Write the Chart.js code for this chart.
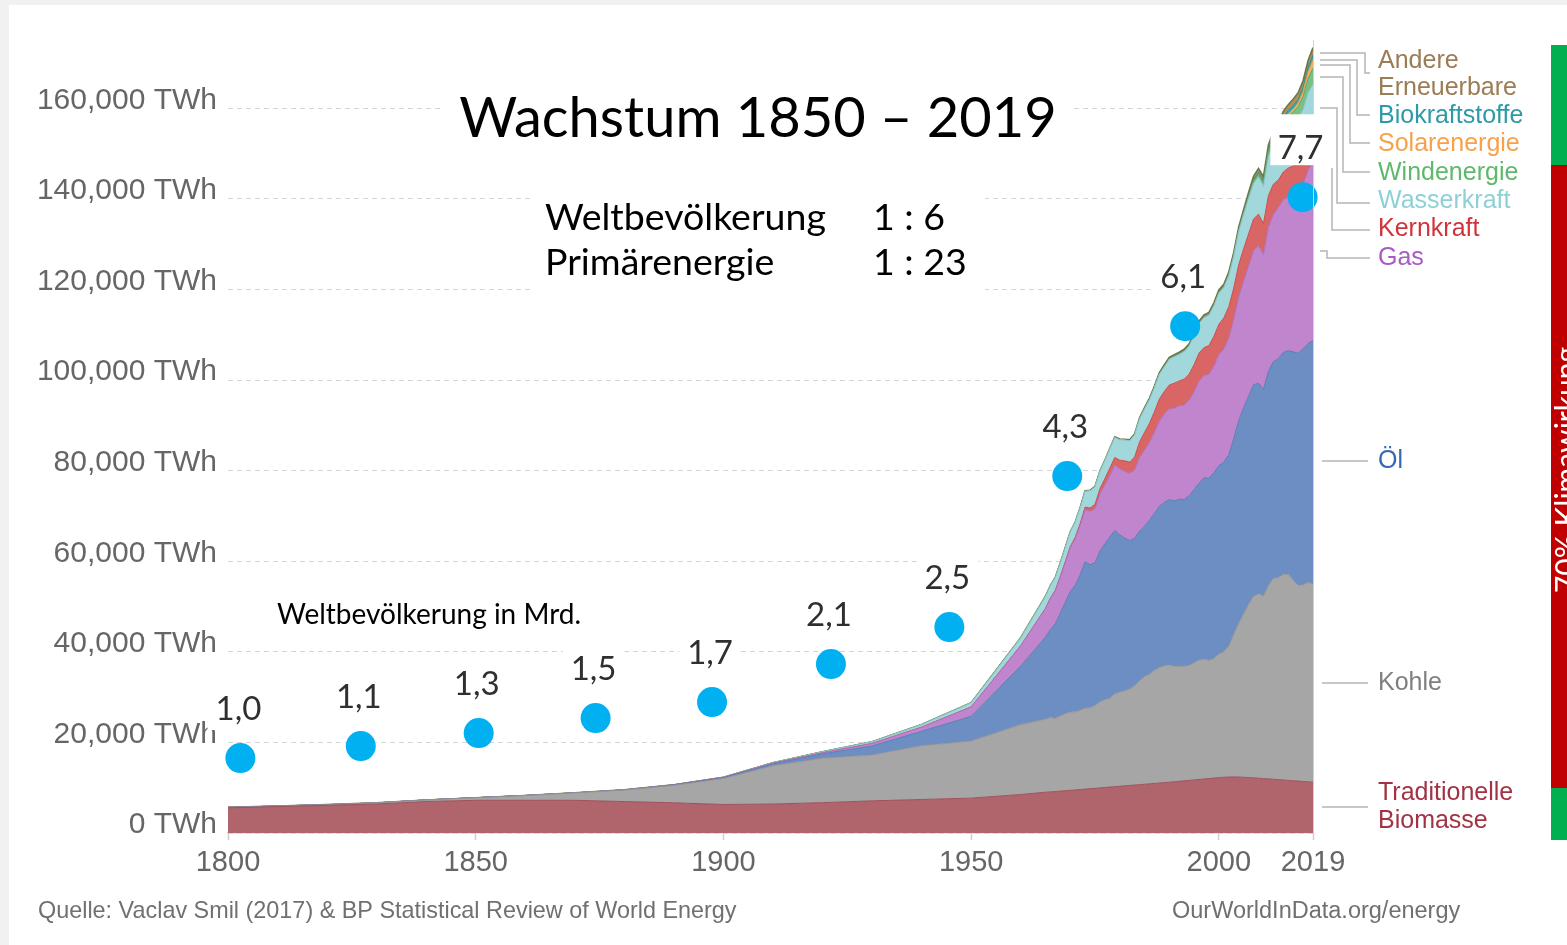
<!DOCTYPE html>
<html><head><meta charset="utf-8">
<script src="https://cdn.jsdelivr.net/npm/chart.js@4.4.1/dist/chart.umd.min.js"></script>
<style>
html,body{margin:0;padding:0;}
body{width:1567px;height:945px;background:#f1f1f1;position:relative;overflow:hidden;}
#panel{position:absolute;left:9px;top:5px;right:0;bottom:0;background:#fff;}
#c{position:absolute;left:0;top:0;}
.seg{position:absolute;left:1551px;width:16px;}
</style></head>
<body>
<div id="panel"></div>
<div class="seg" style="top:45px;height:120px;background:#00b050"></div>
<div class="seg" style="top:165px;height:623px;background:#c00000"></div>
<div class="seg" style="top:788px;height:52px;background:#00b050"></div>
<canvas id="c" width="1567" height="945"></canvas>
<script>
// ---------- DATA ----------
const years = [1800,1810,1820,1830,1840,1850,1860,1870,1880,1890,1900,1910,1920,1930,1940,1950,1960,
1965,1966,1967,1968,1969,1970,1971,1972,1973,1974,1975,1976,1977,1978,1979,1980,1981,1982,1983,1984,
1985,1986,1987,1988,1989,1990,1991,1992,1993,1994,1995,1996,1997,1998,1999,2000,2001,2002,2003,2004,
2005,2006,2007,2008,2009,2010,2011,2012,2013,2014,2015,2016,2017,2018,2019];

const tradBiomass = [5556,5833,6111,6389,6944,7222,7222,7222,6944,6667,6300,6400,6700,7100,7400,7700,8500,
9000,9080,9170,9250,9340,9420,9510,9600,9690,9780,9870,9960,10050,10140,10230,10320,10410,10500,10590,10680,
10770,10860,10950,11040,11130,11220,11320,11420,11520,11620,11720,11820,11920,12020,12120,12220,12300,12350,12380,12350,
12300,12250,12180,12100,12020,11940,11860,11780,11700,11620,11540,11460,11380,11300,11220];
const coal = [97,128,153,264,356,569,1061,1642,2542,3856,5728,8444,9833,10125,11889,12603,15442,
16140,16400,16150,16600,17000,17300,17250,17500,17900,17850,18300,19000,19400,19600,20500,20800,21000,21300,21900,22900,
23800,24200,25000,25500,25800,25900,25500,25400,25300,25400,25900,26400,26500,26100,26400,27300,27700,28900,31500,33900,
36100,38200,40100,40700,40300,42700,44400,44600,45400,45500,44300,43200,43400,44000,43850];
const oil = [0,0,0,0,0,0,0,6,33,89,181,403,931,1994,3161,5444,12900,
18100,19500,20900,22700,24600,26600,27900,29900,32300,31600,31500,33300,34400,35600,36100,34700,33700,32800,32600,33100,
33200,34000,34600,35600,36100,36500,36500,36900,36800,37500,38200,39000,40000,40200,41000,41600,41900,42300,43200,44800,
45500,46000,46700,46500,45700,47300,47800,48400,49000,49400,50400,51300,52100,52800,53620];
const gas = [0,0,0,0,0,0,0,0,6,33,64,161,236,550,925,2092,4500,
6300,6800,7300,8000,8800,9700,10300,10900,11500,11800,11900,12600,13000,13600,14400,14600,14800,14800,15100,16300,
16800,17200,18000,18800,19500,20000,20500,20600,20900,21000,21600,22600,22600,23000,23600,24500,25000,25700,26400,27300,
28000,28700,29600,30400,29700,31800,32500,33300,33700,34000,34700,35500,36300,38300,39300];
const nuclear = [0,0,0,0,0,0,0,0,0,0,0,0,0,0,0,0,30,
70,100,120,160,190,230,330,440,570,720,1000,1160,1400,1640,1700,1900,2260,2500,2850,3400,
3900,4200,4500,4900,5000,5300,5500,5500,5700,5800,6000,6150,6150,6300,6550,6700,6850,6950,6850,7100,
7100,7150,7000,6950,6850,7000,6700,6100,6150,6300,6350,6450,6450,6600,6920];
const hydro = [0,0,0,0,0,0,0,0,0,0,50,120,230,380,560,900,1700,
2600,2750,2800,2900,3050,3200,3300,3450,3500,3800,3850,3850,4000,4250,4400,4500,4600,4700,4900,5050,
5150,5250,5300,5450,5450,5700,5850,5850,6100,6200,6450,6500,6650,6700,6750,6900,6700,6850,6950,7300,
7550,7800,7850,8200,8200,8600,8750,9200,9500,9650,9750,10000,10100,10350,10450];
const wind = [0,0,0,0,0,0,0,0,0,0,0,0,0,0,0,0,0,
0,0,0,0,0,0,0,0,0,0,0,0,0,0,0,0,0,0,0,0,
1,1,2,3,5,10,11,13,16,20,22,27,34,45,60,80,100,140,170,220,
270,340,440,570,720,900,1100,1350,1600,1800,2150,2450,2850,3200,3540];
const solar = [0,0,0,0,0,0,0,0,0,0,0,0,0,0,0,0,0,
0,0,0,0,0,0,0,0,0,0,0,0,0,0,0,0,0,0,0,0,
0,0,0,0,0,0,0,0,0,0,1,1,1,2,2,3,4,5,6,8,
10,15,20,35,55,90,170,270,370,500,650,850,1150,1480,1790];
const biofuels = [0,0,0,0,0,0,0,0,0,0,0,0,0,0,0,0,0,
0,0,0,0,0,0,0,0,0,0,0,0,0,0,0,20,25,35,45,55,
60,70,70,70,75,80,85,80,85,85,90,95,100,100,100,110,115,130,160,180,
210,260,340,440,500,590,600,620,680,750,780,800,850,950,1110];
const otherRenew = [0,0,0,0,0,0,0,0,0,0,0,0,0,0,0,0,40,
60,62,65,70,75,80,85,90,95,100,110,115,120,130,140,150,165,180,200,220,
250,270,290,310,330,340,360,380,390,400,420,440,460,480,490,500,510,530,560,600,
650,700,750,820,880,1000,1080,1150,1220,1290,1400,1460,1520,1570,1614];

// population markers (placed along the time axis by the slide author)
const popYears = [1802.5,1826.8,1850.6,1874.2,1897.7,1921.7,1945.6,1969.4,1993.2,2016.9];
const popHeights = [16556,19205,22075,25386,28918,37307,45475,78808,111920,140397];
const popBillions = [1.0,1.1,1.3,1.5,1.7,2.1,2.5,4.3,6.1,7.7];

const xTicks = [1800,1850,1900,1950,2000,2019];
const yTicks = [0,20000,40000,60000,80000,100000,120000,140000,160000];

// ---------- STYLE ----------
const layers = [
  {label:'Traditionelle Biomasse', data:tradBiomass, fill:'#b0646c', line:'#9d525b'},
  {label:'Kohle', data:coal, fill:'#a6a6a6', line:'#939393'},
  {label:'Öl', data:oil, fill:'#6d8ec3', line:'#5b7cb3'},
  {label:'Gas', data:gas, fill:'#c085cd', line:'#ad6fbd'},
  {label:'Kernkraft', data:nuclear, fill:'#da6565', line:'#c85050'},
  {label:'Wasserkraft', data:hydro, fill:'#a2d8db', line:'#88c6ca'},
  {label:'Windenergie', data:wind, fill:'#78c084', line:'#5aa866'},
  {label:'Solarenergie', data:solar, fill:'#f6b25e', line:'#e09a45'},
  {label:'Biokraftstoffe', data:biofuels, fill:'#3aa5ad', line:'#2b8d95'},
  {label:'Andere Erneuerbare', data:otherRenew, fill:'#b0925f', line:'#6d7545'}
];

const datasets = layers.map((L,i)=>({
  label:L.label,
  data: years.map((y,k)=>({x:y, y:L.data[k]})),
  backgroundColor:L.fill, borderColor:L.line, borderWidth: i===layers.length-1?1.6:1,
  fill: i===0?'origin':'-1', pointRadius:0, tension:0, yAxisID:'y', order:5
}));
datasets.push({
  label:'Weltbevölkerung',
  data: popYears.map((y,k)=>({x:y, y:popHeights[k]})),
  showLine:false, pointRadius:15, pointHoverRadius:15, pointBackgroundColor:'#00b0f0',
  pointBorderWidth:0, borderColor:'#00b0f0', backgroundColor:'#00b0f0', fill:false,
  yAxisID:'yPop', order:-1, clip:false
});

const SANS = '"Liberation Sans", Arial, sans-serif';
const LATO = 'Lato, "Noto Sans", sans-serif';

const legendItems = [
  {t:['Andere','Erneuerbare'], c:'#9b7c55', y:[61,88], path:[[7,53],[52,53],[52,73],[57,73]]},
  {t:['Biokraftstoffe'], c:'#2e9aa6', y:[116], path:[[7,60],[44,60],[44,115],[57,115]]},
  {t:['Solarenergie'], c:'#f7a14a', y:[144], path:[[7,65],[37,65],[37,143],[57,143]]},
  {t:['Windenergie'], c:'#5fb86b', y:[173], path:[[7,77],[30,77],[30,172],[57,172]]},
  {t:['Wasserkraft'], c:'#8ed0d6', y:[201], path:[[7,108],[24,108],[24,203],[57,203]]},
  {t:['Kernkraft'], c:'#d1333a', y:[229], path:[[19,168],[19,230],[57,230]]},
  {t:['Gas'], c:'#a95ac3', y:[258], path:[[7,251],[14,251],[14,258],[57,258]]},
  {t:['Öl'], c:'#3467b5', y:[461], path:[[9,461],[55,461]]},
  {t:['Kohle'], c:'#7f7f7f', y:[683], path:[[9,683],[55,683]]},
  {t:['Traditionelle','Biomasse'], c:'#a23344', y:[793,821], path:[[9,807],[55,807]]}
];

const overlay = {
  id:'overlay',
  afterDatasetsDraw(chart){
    const {ctx, chartArea:ca, scales} = chart;
    const xs = scales.x, ys = scales.y;
    ctx.save();
    // right boundary line
    ctx.strokeStyle='#d0d0d0'; ctx.lineWidth=1;
    ctx.beginPath(); ctx.moveTo(ca.right+0.5, ca.top-5); ctx.lineTo(ca.right+0.5, ca.bottom+7); ctx.stroke();

    // population labels with white backgrounds
    const meta = chart.getDatasetMeta(chart.data.datasets.length-1);
    ctx.font = '33px '+LATO;
    ctx.textAlign='center'; ctx.textBaseline='alphabetic';
    meta.data.forEach((pt,i)=>{
      const s = popBillions[i].toFixed(1).replace('.',',');
      const w = ctx.measureText(s).width;
      const bx = pt.x-2, by = pt.y-38;
      ctx.fillStyle='#fff';
      if(i===meta.data.length-1){
        const x0 = xs.getPixelForValue(2010.4), y0 = ys.getPixelForValue(158700), y1 = ys.getPixelForValue(147460);
        ctx.fillRect(x0, y0, ca.right+8-x0, y1-y0);
      } else {
        ctx.fillRect(bx-w/2-8, by-30, w+16, 40);
      }
      ctx.fillStyle='#2f2f2f';
      ctx.fillText(s, bx, by);
    });

    // title
    ctx.fillStyle='#fff'; ctx.fillRect(440,80,632,68);
    ctx.fillStyle='#000'; ctx.font='56px '+LATO; ctx.textAlign='center';
    ctx.fillText('Wachstum 1850 \u2013 2019', 758, 137);

    // ratio block
    ctx.fillStyle='#fff'; ctx.fillRect(530,188,455,104);
    ctx.fillStyle='#000'; ctx.font='37.5px '+LATO; ctx.textAlign='left';
    ctx.fillText('Weltbevölkerung', 545, 230);
    ctx.fillText('1 : 6', 873, 230);
    ctx.fillText('Primärenergie', 545, 275);
    ctx.fillText('1 : 23', 873, 275);

    ctx.font='28px '+LATO;
    ctx.fillText('Weltbevölkerung in Mrd.', 277, 624);

    // legend connectors and labels
    ctx.strokeStyle='#b5b5b5'; ctx.lineWidth=1.5;
    legendItems.forEach(it=>{
      ctx.beginPath();
      it.path.forEach((p,k)=>{ const X=ca.right+p[0], Y=p[1]; k?ctx.lineTo(X,Y):ctx.moveTo(X,Y); });
      ctx.stroke();
      ctx.fillStyle=it.c; ctx.font='25px '+SANS; ctx.textBaseline='middle';
      it.t.forEach((s,k)=>ctx.fillText(s, ca.right+65, it.y[k]));
    });

    // sources
    ctx.textBaseline='alphabetic';
    ctx.fillStyle='#707070'; ctx.font='23.4px '+SANS;
    ctx.fillText('Quelle: Vaclav Smil (2017) & BP Statistical Review of World Energy', 38, 918);
    ctx.font='23.5px '+SANS;
    ctx.fillText('OurWorldInData.org/energy', 1172, 918);

    // rotated side text (cut by page edge)
    ctx.save();
    ctx.translate(1577, 470); ctx.rotate(-Math.PI/2);
    ctx.fillStyle='#fff'; ctx.font='30px '+LATO; ctx.textAlign='center';
    ctx.fillText('70% Klimawirkung', 0, 0);
    ctx.restore();
    ctx.restore();
  }
};

new Chart(document.getElementById('c'), {
  type:'line',
  data:{datasets},
  options:{
    responsive:false, animation:false, events:[],
    layout:{padding:{left:0,right:254,top:45,bottom:0}},
    plugins:{legend:{display:false}, tooltip:{enabled:false}},
    scales:{
      x:{type:'linear', min:1800, max:2019,
        afterBuildTicks:s=>{s.ticks = xTicks.map(v=>({value:v}));},
        afterFit:s=>{s.height=112;},
        grid:{drawOnChartArea:false, drawTicks:true, tickLength:7, tickColor:'#cfcfcf', tickWidth:1.5},
        border:{display:true, color:'#d6d6d6', width:1.5},
        ticks:{color:'#666', font:{family:SANS, size:29}, padding:6, maxRotation:0, autoSkip:false,
          callback:v=>String(v)}},
      y:{stacked:true, min:0, max:174000,
        afterBuildTicks:s=>{s.ticks = yTicks.map(v=>({value:v}));},
        afterFit:s=>{s.width=228;},
        grid:{color:'#d4d4d4', drawTicks:false, lineWidth:1},
        border:{display:false, dash:[5,4]},
        ticks:{color:'#666', font:{family:SANS, size:30}, padding:11, labelOffset:-8,
          callback:v=>v.toLocaleString('en-US')+' TWh'}},
      yPop:{display:false, min:0, max:174000}
    }
  },
  plugins:[overlay]
});
</script>
</body></html>
